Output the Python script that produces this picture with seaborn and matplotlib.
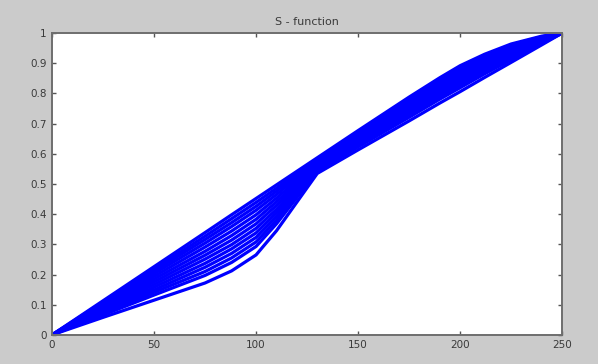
import matplotlib
matplotlib.use("Agg")
import matplotlib.pyplot as plt
import seaborn as sns
import pandas as pd

# x positions of the read-off knots
x_knots = [0, 25, 50, 75, 88, 100, 110, 120, 130, 150, 175, 190, 200, 212, 225, 240, 250]

# family of S-function curves (top to bottom)
s01 = [0, .113, .226, .339, .398, .452, .497, .542, .587, .677, .788, .852, .892, .930, .964, .990, 1]
s02 = [0, .109, .218, .327, .385, .439, .486, .535, .583, .672, .782, .846, .886, .925, .960, .988, 1]
s03 = [0, .105, .211, .316, .372, .426, .476, .528, .580, .668, .777, .840, .880, .919, .955, .986, 1]
s04 = [0, .101, .203, .304, .359, .413, .465, .521, .576, .664, .771, .834, .874, .914, .951, .984, 1]
s05 = [0, .097, .194, .291, .344, .398, .453, .512, .572, .658, .765, .828, .867, .908, .946, .982, 1]
s06 = [0, .093, .185, .277, .329, .383, .441, .504, .568, .653, .759, .821, .860, .902, .941, .979, 1]
s07 = [0, .088, .176, .264, .314, .368, .429, .496, .564, .648, .752, .814, .853, .895, .937, .977, 1]
s08 = [0, .084, .167, .251, .299, .353, .416, .488, .559, .643, .746, .808, .846, .889, .932, .975, 1]
s09 = [0, .079, .158, .237, .285, .338, .404, .480, .555, .638, .740, .801, .840, .883, .927, .972, 1]
s10 = [0, .075, .149, .224, .270, .323, .392, .472, .551, .633, .734, .794, .833, .877, .922, .970, 1]
s11 = [0, .071, .141, .210, .255, .308, .380, .464, .547, .628, .727, .787, .826, .871, .917, .968, 1]
s12 = [0, .066, .132, .197, .240, .293, .368, .455, .543, .623, .721, .781, .819, .865, .912, .965, 1]
s13 = [0, .058, .115, .172, .212, .265, .345, .440, .535, .613, .709, .768, .806, .853, .903, .961, 1]

curves = [s01, s02, s03, s04, s05, s06, s07, s08, s09, s10, s11, s12, s13]

x_ticks = [0, 50, 100, 150, 200, 250]
x_tick_labels = ["0", "50", "100", "150", "200", "250"]
y_ticks = [0, 0.1, 0.2, 0.3, 0.4, 0.5, 0.6, 0.7, 0.8, 0.9, 1.0]
y_tick_labels = ["0", "0.1", "0.2", "0.3", "0.4", "0.5", "0.6", "0.7", "0.8", "0.9", "1"]
title_text = "S - function"

rows = []
for i, c in enumerate(curves):
    for xv, yv in zip(x_knots, c):
        rows.append({"curve": i, "x": xv, "y": yv})
df = pd.DataFrame(rows)

sns.set_theme(style="white")
plt.rcParams["font.family"] = ["DejaVu Sans"]

fig = plt.figure(figsize=(5.98, 3.64), dpi=100, facecolor="#cbcbcb")
ax = fig.add_axes([0.087, 0.080, 0.853, 0.829])
ax.set_facecolor("white")

sns.lineplot(data=df, x="x", y="y", units="curve", estimator=None,
             color="#0000ff", linewidth=2.3, ax=ax, legend=False)

ax.set_xlim(0, 250)
ax.set_ylim(0, 1)
ax.set_xticks(x_ticks)
ax.set_xticklabels(x_tick_labels)
ax.set_yticks(y_ticks)
ax.set_yticklabels(y_tick_labels)
ax.set_xlabel("")
ax.set_ylabel("")
ax.tick_params(direction="in", length=3, width=1, colors="#555555",
               labelcolor="#3a3a3a", labelsize=7.5, top=True, right=True,
               bottom=True, left=True, pad=4)
for sp in ax.spines.values():
    sp.set_visible(True)
    sp.set_color("#6e6e6e")
    sp.set_linewidth(1.4)

ax.set_title(title_text, fontsize=8, color="#3a3a3a", pad=6)

fig.savefig("out.png", dpi=100, facecolor=fig.get_facecolor())
